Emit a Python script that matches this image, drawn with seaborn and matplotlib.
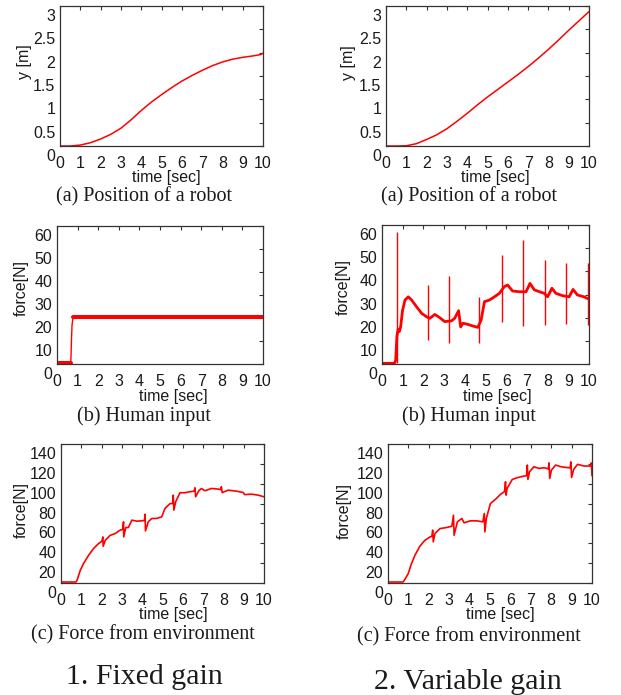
import numpy as np
import matplotlib
matplotlib.use("Agg")
import matplotlib.pyplot as plt
import seaborn as sns
from matplotlib.transforms import ScaledTranslation

# ---------------- data ----------------
time_ticks = [str(i) for i in range(11)]

# (a) position of robot
a_t = [0, 0.5, 1, 1.5, 2, 2.5, 3, 3.5, 4, 4.5, 5, 5.5, 6, 6.5, 7, 7.5, 8, 8.5, 9, 9.5, 9.9, 10]
a_fixed_y = [0, 0.0, 0.02, 0.07, 0.15, 0.25, 0.38, 0.56, 0.76, 0.94, 1.10, 1.25, 1.39, 1.51,
             1.62, 1.72, 1.80, 1.86, 1.90, 1.93, 1.96, 1.99]
a_var_y = [0, 0, 0.005, 0.05, 0.14, 0.24, 0.37, 0.53, 0.70, 0.88, 1.05, 1.21, 1.37, 1.53,
           1.70, 1.88, 2.07, 2.27, 2.48, 2.68, 2.84, 2.88]
a_yticks = [0, 0.5, 1, 1.5, 2, 2.5, 3]
a_ylabels = ["0", "0.5", "1", "1.5", "2", "2.5", "3"]

# (b) human input, fixed gain
b_fixed_t = [0, 0.66, 0.68, 0.70, 0.73, 0.78, 10]
b_fixed_f = [0.4, 0.4, 3.0, 10.0, 17.0, 20.3, 20.3]

# (b) human input, variable gain (base trace)
b_var_t = [0, 0.60, 0.66, 0.72, 0.78, 0.84, 0.90, 0.99, 1.11, 1.27, 1.43, 1.67, 1.91, 2.15,
           2.31, 2.55, 2.79, 3.03, 3.35, 3.51, 3.70, 3.80, 3.91, 4.15, 4.39, 4.63, 4.79,
           4.95, 5.19, 5.43, 5.67, 5.91, 6.07, 6.31, 6.63, 6.96, 7.15, 7.36, 7.60, 7.84,
           8.00, 8.21, 8.40, 8.72, 9.04, 9.23, 9.44, 9.76, 9.92, 10]
b_var_f = [0.3, 0.3, 1.5, 12, 15, 14, 16, 23, 27.6, 29, 27.6, 24.7, 21.9, 20.4,
           19.7, 21.4, 20.0, 18.3, 18.6, 19.7, 23.0, 16.0, 17.6, 17.1, 16.4, 15.8, 19.0,
           26.9, 27.6, 29.0, 30.5, 33.4, 34.1, 31.5, 31.2, 31.2, 34.8, 32.0, 31.2, 30.5,
           29.0, 32.7, 30.5, 29.5, 29.0, 32.2, 29.8, 29.0, 28.3, 28.0]
# spikes of the variable-gain human input
b_spike_t = [0.74, 2.23, 3.24, 4.68, 5.79, 6.83, 7.88, 8.88, 9.95]
b_spike_lo = [0.3, 10.4, 8.9, 8.9, 18.3, 16.4, 16.8, 17.3, 16.8]
b_spike_hi = [57.1, 34.0, 38.0, 29.0, 47.0, 53.5, 44.9, 43.7, 43.7]
b_yticks = [0, 10, 20, 30, 40, 50, 60]
b_ylabels = ["0", "10", "20", "30", "40", "50", "60"]

# (c) force from environment, fixed gain
c_fixed_t = [0, 0.74, 0.79, 0.95, 1.11, 1.36, 1.60, 1.85, 2.01, 2.06, 2.08, 2.18, 2.42,
             2.67, 2.91, 3.04, 3.08, 3.09, 3.19, 3.32, 3.49, 3.73, 3.98, 4.11, 4.14, 4.16,
             4.30, 4.47, 4.71, 4.96, 5.12, 5.37, 5.50, 5.53, 5.56, 5.65, 5.86, 6.10, 6.35,
             6.56, 6.60, 6.63, 6.79, 6.92, 7.09, 7.41, 7.74, 7.87, 7.90, 7.94, 8.23, 8.64,
             8.97, 9.05, 9.38, 9.71, 10]
c_fixed_f = [1, 1, 2.7, 12.8, 19.5, 27.9, 34.7, 39.7, 42, 46.4, 37, 43, 48,
             49.8, 53.2, 54, 61.6, 46.4, 55.9, 55.9, 63.3, 62.3, 62.6, 63, 69.3, 52.5,
             61.6, 65, 65, 66.6, 75, 80, 80, 88.5, 73.4, 81.8, 90.9, 90.9, 91.9,
             92.5, 95.9, 86.8, 92.9, 95.2, 92.9, 95.2, 94.6, 94, 97, 91, 93.5, 92.5,
             91.2, 89, 89.5, 88.5, 86.8]

# (c) force from environment, variable gain
c_var_t = [0, 0.74, 0.82, 0.99, 1.15, 1.32, 1.56, 1.81, 2.06, 2.15, 2.19, 2.22, 2.30,
           2.55, 2.88, 3.13, 3.21, 3.24, 3.40, 3.62, 3.73, 4.03, 4.36, 4.65, 4.72, 4.75,
           4.82, 5.02, 5.26, 5.51, 5.71, 5.76, 5.79, 5.84, 6.09, 6.33, 6.66, 6.79, 6.83,
           6.86, 6.94, 7.15, 7.40, 7.65, 7.86, 7.89, 7.93, 8.01, 8.22, 8.47, 8.72, 8.93,
           8.96, 9.00, 9.10, 9.29, 9.62, 9.92, 9.97, 10]
c_var_f = [1, 1, 3.4, 9.4, 19.5, 27.9, 37, 43, 46.4, 47, 53.2, 41.4, 49.8,
           54.8, 55.9, 57.2, 68.3, 48.1, 61.6, 65, 60.6, 62.6, 62.6, 61.6, 70, 51.5,
           65, 80, 84.1, 89.2, 92, 102, 88.5, 95.2, 104.3, 106, 107.7, 108, 118.8,
           104.3, 112, 117.1, 115.4, 116.1, 115, 121, 105.3, 113.7, 118.8, 117.1, 116.4, 116,
           122, 106.3, 114.4, 119.5, 117.8, 117.8, 121, 108]
c_yticks = [0, 20, 40, 60, 80, 100, 120, 140]
c_ylabels = ["0", "20", "40", "60", "80", "100", "120", "140"]

# ---------------- figure ----------------
sns.set_theme(style="white")
plt.rcParams['font.family'] = ['Liberation Sans', 'DejaVu Sans']
SERIF = ['Liberation Serif', 'DejaVu Serif']
RED = '#ff0000'
TXT = '#1a1a1a'
FS = 11.5

W, H = 621, 695
fig = plt.figure(figsize=(W / 100, H / 100), dpi=100)
fig.patch.set_facecolor('white')


def add_ax(l, r, t, b):
    return fig.add_axes([l / W, 1 - b / H, (r - l) / W, (b - t) / H])


def fx(x):
    return x / W


def fy(y):
    return 1 - y / H


def style(ax, ylim, yticks, ylabels, ylab, ylab_xy, xlab_xy):
    ax.set_facecolor('white')
    ax.set_xlim(0, 10)
    ax.set_ylim(*ylim)
    ax.set_xticks(range(11))
    ax.set_xticklabels(time_ticks)
    ax.set_yticks(yticks)
    ax.set_yticklabels(ylabels)
    for s in ax.spines.values():
        s.set_visible(True)
        s.set_color('#333333')
        s.set_linewidth(0.9)
    ax.tick_params(direction='in', length=3, width=0.8, top=True, right=True,
                   labelsize=FS, color='#333333', labelcolor=TXT)
    ax.tick_params(axis='x', pad=7)
    ax.tick_params(axis='y', pad=3.5)
    ax.set_xlabel('time [sec]', fontsize=FS, color=TXT)
    ax.xaxis.label.set_va('center')
    ax.xaxis.set_label_coords(fx(xlab_xy[0]), fy(xlab_xy[1]), transform=fig.transFigure)
    ax.set_ylabel(ylab, fontsize=FS, color=TXT)
    ax.yaxis.label.set_va('center')
    ax.yaxis.label.set_ha('center')
    ax.yaxis.set_label_coords(fx(ylab_xy[0]), fy(ylab_xy[1]), transform=fig.transFigure)
    off = ScaledTranslation(0, -9.0 / 100, fig.dpi_scale_trans)
    for lab in ax.get_yticklabels():
        lab.set_transform(lab.get_transform() + off)


def line(ax, x, y, lw):
    sns.lineplot(x=x, y=y, ax=ax, color=RED, linewidth=lw, estimator=None,
                 sort=False, legend=False)


# Row 1: position
ax1 = add_ax(60, 263, 6, 146)
line(ax1, a_t, a_fixed_y, 1.1)
style(ax1, (0, 3), a_yticks, a_ylabels, 'y [m]', (24, 62), (166.7, 178))

ax2 = add_ax(386, 589, 6, 146)
line(ax2, a_t, a_var_y, 1.1)
style(ax2, (0, 3), a_yticks, a_ylabels, 'y [m]', (348, 62.5), (495, 178))

# Row 2: human input
ax3 = add_ax(57, 263, 226, 364)
line(ax3, b_fixed_t, b_fixed_f, 1.0)
bt = np.array(b_fixed_t)
bf = np.array(b_fixed_f)
for i in np.where(np.abs(np.diff(bf)) < 0.5)[0]:
    line(ax3, bt[i:i + 2], bf[i:i + 2], 2.9)
style(ax3, (0, 60), b_yticks, b_ylabels, 'force[N]', (21, 288), (173.3, 396.5))

ax4 = add_ax(382, 589, 225, 364)
line(ax4, b_var_t, b_var_f, 2.0)
ax4.vlines(b_spike_t, b_spike_lo, b_spike_hi, colors=RED, linewidth=1.0)
style(ax4, (0, 60), b_yticks, b_ylabels, 'force[N]', (343.5, 287), (497, 396.5))

# Row 3: force from environment
ax5 = add_ax(61, 264, 444, 583)
line(ax5, c_fixed_t, c_fixed_f, 1.2)
style(ax5, (0, 140), c_yticks, c_ylabels, 'force[N]', (21.5, 510), (173.7, 614))

ax6 = add_ax(388, 592, 444, 583)
line(ax6, c_var_t, c_var_f, 1.2)
style(ax6, (0, 140), c_yticks, c_ylabels, 'force[N]', (344, 511), (500.5, 614))

# Captions
caps = [("(a) Position of a robot", 143.5, 196.5), ("(a) Position of a robot", 469, 196.5),
        ("(b) Human input", 143.5, 416), ("(b) Human input", 469, 416),
        ("(c) Force from environment", 143.3, 635), ("(c) Force from environment", 469, 636.5)]
for s, x, y in caps:
    fig.text(fx(x), fy(y), s, ha='center', va='center', fontsize=14.5,
             family=SERIF, color=TXT)

fig.text(fx(144), fy(677), "1. Fixed gain", ha='center', va='center', fontsize=21.5,
         family=SERIF, color=TXT)
fig.text(fx(468), fy(682), "2. Variable gain", ha='center', va='center', fontsize=21.5,
         family=SERIF, color=TXT)

fig.savefig("out.png", dpi=100, facecolor='white')
